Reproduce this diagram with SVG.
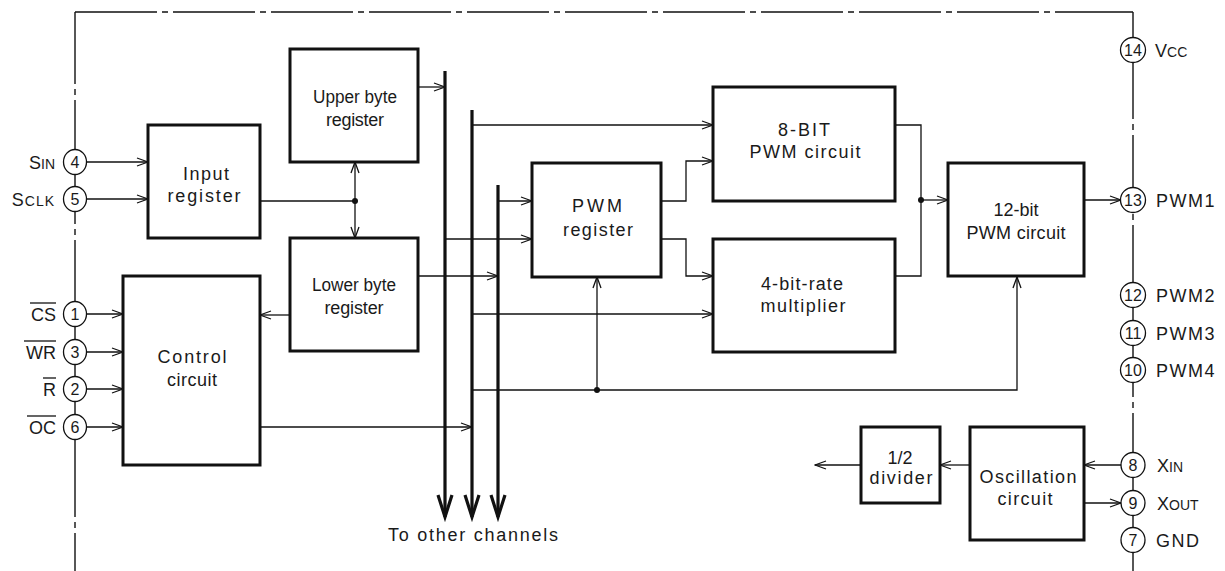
<svg xmlns="http://www.w3.org/2000/svg" width="1225" height="571" viewBox="0 0 1225 571">
<defs>
<style>
text{font-family:"Liberation Sans",Arial,sans-serif;fill:#1a1a1a;}
.lbl{font-size:18px;text-anchor:middle;}
.pin{font-size:18px;}
.rp{font-size:18px;letter-spacing:1.5px;}
.num{font-size:16px;text-anchor:middle;}
.box{fill:#fff;stroke:#111;stroke-width:3;}
.ln{fill:none;stroke:#111;stroke-width:1.3;}
.bus{fill:none;stroke:#111;stroke-width:3.2;}
.pc{fill:#fff;stroke:#111;stroke-width:1.3;}
.edge{fill:none;stroke:#111;stroke-width:1.4;}
</style>
<marker id="ar" viewBox="-13 -6 14 12" refX="0" refY="0" markerWidth="14" markerHeight="12" markerUnits="userSpaceOnUse" orient="auto">
<path d="M-11,-4 L0,0 L-11,4" fill="none" stroke="#111" stroke-width="1.3"/>
</marker>
</defs>
<rect width="1225" height="571" fill="#fff"/>

<g id="outline">
<path class="edge" d="M75,12 H1133" stroke-dasharray="82 5 6 5"/>
<path class="edge" d="M75,12 V84 M75,89 V95 M75,100 V224 M75,229 V235 M75,240 V517 M75,522 V528 M75,533 V571"/>
<path class="edge" d="M1133,12 V119 M1133,124 V130 M1133,135 V209 M1133,214 V220 M1133,225 V397 M1133,402 V408 M1133,413 V571"/>
</g>

<g id="connectors">
<path class="ln" d="M86,162 H148" marker-end="url(#ar)"/>
<path class="ln" d="M86,199 H148" marker-end="url(#ar)"/>
<path class="ln" d="M86,314 H123" marker-end="url(#ar)"/>
<path class="ln" d="M86,352 H123" marker-end="url(#ar)"/>
<path class="ln" d="M86,389 H123" marker-end="url(#ar)"/>
<path class="ln" d="M86,427 H123" marker-end="url(#ar)"/>
<path class="ln" d="M260,201 H355"/>
<path class="ln" d="M355,201 V162" marker-end="url(#ar)"/>
<path class="ln" d="M355,201 V238" marker-end="url(#ar)"/>
<circle cx="355" cy="201" r="3" fill="#111"/>
<path class="ln" d="M418,87 H445" marker-end="url(#ar)"/>
<path class="ln" d="M472,125 H713" marker-end="url(#ar)"/>
<path class="ln" d="M498,201 H532" marker-end="url(#ar)"/>
<path class="ln" d="M445,239 H532" marker-end="url(#ar)"/>
<path class="ln" d="M418,276 H498" marker-end="url(#ar)"/>
<path class="ln" d="M290,315 H260" marker-end="url(#ar)"/>
<path class="ln" d="M472,314 H713" marker-end="url(#ar)"/>
<path class="ln" d="M472,390 H1017 V277" marker-end="url(#ar)"/>
<path class="ln" d="M597,390 V277" marker-end="url(#ar)"/>
<circle cx="597" cy="390" r="3" fill="#111"/>
<path class="ln" d="M260,427 H472" marker-end="url(#ar)"/>
<path class="ln" d="M661,201 H686 V161 H713" marker-end="url(#ar)"/>
<path class="ln" d="M661,239 H686 V276 H713" marker-end="url(#ar)"/>
<path class="ln" d="M895,125 H921 V276 H895"/>
<path class="ln" d="M921,200 H948" marker-end="url(#ar)"/>
<circle cx="921" cy="200" r="3" fill="#111"/>
<path class="ln" d="M1084,200 H1121" marker-end="url(#ar)"/>
<path class="ln" d="M1121,465 H1084" marker-end="url(#ar)"/>
<path class="ln" d="M970,465 H940" marker-end="url(#ar)"/>
<path class="ln" d="M861,465 H815" marker-end="url(#ar)"/>
<path class="ln" d="M1084,503 H1121" marker-end="url(#ar)"/>
<path class="bus" d="M445,71 V517 M472,110 V517 M498,185 V517"/>
<path class="bus" d="M438,495 L445,517 L452,495 M465,495 L472,517 L479,495 M491,495 L498,517 L505,495"/>
</g>

<g id="input-register">
<rect class="box" x="148" y="125" width="112" height="113"/>
<text class="lbl" x="206" y="180" textLength="46" lengthAdjust="spacing">Input</text>
<text class="lbl" x="204" y="202" textLength="73" lengthAdjust="spacing">register</text>
</g>
<g id="control-circuit">
<rect class="box" x="123" y="276" width="137" height="189"/>
<text class="lbl" x="192" y="363" textLength="69" lengthAdjust="spacing">Control</text>
<text class="lbl" x="192" y="386" textLength="50" lengthAdjust="spacing">circuit</text>
</g>
<g id="upper-byte-register">
<rect class="box" x="290" y="49" width="128" height="113"/>
<text class="lbl" x="355" y="103" textLength="84" lengthAdjust="spacingAndGlyphs">Upper byte</text>
<text class="lbl" x="355" y="126" textLength="58" lengthAdjust="spacing">register</text>
</g>
<g id="lower-byte-register">
<rect class="box" x="290" y="238" width="128" height="113"/>
<text class="lbl" x="354" y="291" textLength="84" lengthAdjust="spacingAndGlyphs">Lower byte</text>
<text class="lbl" x="354" y="314" textLength="59" lengthAdjust="spacing">register</text>
</g>
<g id="pwm-register">
<rect class="box" x="532" y="163" width="129" height="114"/>
<text class="lbl" x="597" y="212" textLength="50" lengthAdjust="spacing">PWM</text>
<text class="lbl" x="598" y="236" textLength="70" lengthAdjust="spacing">register</text>
</g>
<g id="pwm8">
<rect class="box" x="713" y="87" width="182" height="114"/>
<text class="lbl" x="804" y="136" textLength="52" lengthAdjust="spacing">8-BIT</text>
<text class="lbl" x="805" y="158" textLength="111" lengthAdjust="spacing">PWM circuit</text>
</g>
<g id="rate-multiplier">
<rect class="box" x="713" y="239" width="182" height="113"/>
<text class="lbl" x="802" y="290" textLength="82" lengthAdjust="spacing">4-bit-rate</text>
<text class="lbl" x="803" y="312" textLength="85" lengthAdjust="spacing">multiplier</text>
</g>
<g id="pwm12">
<rect class="box" x="948" y="163" width="136" height="113"/>
<text class="lbl" x="1016" y="216" textLength="45" lengthAdjust="spacing">12-bit</text>
<text class="lbl" x="1016" y="239" textLength="99" lengthAdjust="spacing">PWM circuit</text>
</g>
<g id="oscillation-circuit">
<rect class="box" x="970" y="427" width="114" height="113"/>
<text class="lbl" x="1028" y="483" textLength="97" lengthAdjust="spacing">Oscillation</text>
<text class="lbl" x="1025" y="505" textLength="55" lengthAdjust="spacing">circuit</text>
</g>
<g id="divider">
<rect class="box" x="861" y="427" width="79" height="76"/>
<text class="lbl" x="900" y="464">1/2</text>
<text class="lbl" x="901" y="484" textLength="63" lengthAdjust="spacing">divider</text>
</g>

<g id="pin-4">
<ellipse class="pc" cx="75" cy="162" rx="11.5" ry="12.5"/>
<text class="num" x="75" y="168">4</text>
<text class="pin" x="55" y="169" text-anchor="end">S<tspan font-size="14px">IN</tspan></text>
</g>
<g id="pin-5">
<ellipse class="pc" cx="75" cy="199" rx="11.5" ry="12.5"/>
<text class="num" x="75" y="205">5</text>
<text class="pin" x="55" y="206" text-anchor="end" letter-spacing="1">S<tspan font-size="14px">CLK</tspan></text>
</g>
<g id="pin-1">
<ellipse class="pc" cx="75" cy="314" rx="11.5" ry="12.5"/>
<text class="num" x="75" y="320">1</text>
<text class="pin" x="56" y="321" text-anchor="end">CS</text>
<path class="ln" d="M30,303 H56"/>
</g>
<g id="pin-3">
<ellipse class="pc" cx="75" cy="352" rx="11.5" ry="12.5"/>
<text class="num" x="75" y="358">3</text>
<text class="pin" x="56" y="359" text-anchor="end">WR</text>
<path class="ln" d="M24,341 H56"/>
</g>
<g id="pin-2">
<ellipse class="pc" cx="75" cy="389" rx="11.5" ry="12.5"/>
<text class="num" x="75" y="395">2</text>
<text class="pin" x="56" y="396" text-anchor="end">R</text>
<path class="ln" d="M43,378 H56"/>
</g>
<g id="pin-6">
<ellipse class="pc" cx="75" cy="427" rx="11.5" ry="12.5"/>
<text class="num" x="75" y="433">6</text>
<text class="pin" x="56" y="434" text-anchor="end">OC</text>
<path class="ln" d="M27,416 H56"/>
</g>

<g id="pin-14">
<ellipse class="pc" cx="1133" cy="50" rx="12.5" ry="12.5"/>
<text class="num" x="1133" y="56">14</text>
<text class="pin" x="1155" y="57">V<tspan font-size="14px">CC</tspan></text>
</g>
<g id="pin-13">
<ellipse class="pc" cx="1133" cy="200" rx="12.5" ry="12.5"/>
<text class="num" x="1133" y="206">13</text>
<text class="rp" x="1156" y="207">PWM1</text>
</g>
<g id="pin-12">
<ellipse class="pc" cx="1133" cy="295" rx="12.5" ry="12.5"/>
<text class="num" x="1133" y="301">12</text>
<text class="rp" x="1156" y="302">PWM2</text>
</g>
<g id="pin-11">
<ellipse class="pc" cx="1133" cy="333" rx="12.5" ry="12.5"/>
<text class="num" x="1133" y="339">11</text>
<text class="rp" x="1156" y="340">PWM3</text>
</g>
<g id="pin-10">
<ellipse class="pc" cx="1133" cy="370" rx="12.5" ry="12.5"/>
<text class="num" x="1133" y="376">10</text>
<text class="rp" x="1156" y="377">PWM4</text>
</g>
<g id="pin-8">
<ellipse class="pc" cx="1133" cy="465" rx="12" ry="12.5"/>
<text class="num" x="1133" y="471">8</text>
<text class="pin" x="1157" y="472">X<tspan font-size="14px">IN</tspan></text>
</g>
<g id="pin-9">
<ellipse class="pc" cx="1133" cy="503" rx="12" ry="12.5"/>
<text class="num" x="1133" y="509">9</text>
<text class="pin" x="1157" y="510">X<tspan font-size="14px">OUT</tspan></text>
</g>
<g id="pin-7">
<ellipse class="pc" cx="1133" cy="540" rx="12" ry="12.5"/>
<text class="num" x="1133" y="546">7</text>
<text class="rp" x="1156" y="547" letter-spacing="1">GND</text>
</g>

<text class="lbl" x="473" y="541" textLength="170" lengthAdjust="spacing">To other channels</text>
</svg>
